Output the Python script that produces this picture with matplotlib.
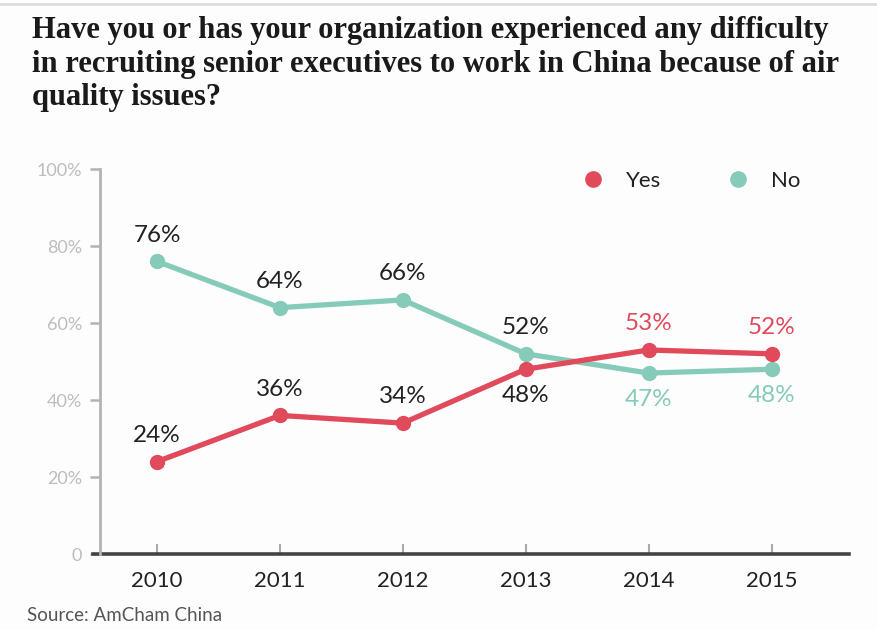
import matplotlib.pyplot as plt
from matplotlib.lines import Line2D

years = [2010, 2011, 2012, 2013, 2014, 2015]
yes_pct = [24, 36, 34, 48, 53, 52]
no_pct = [76, 64, 66, 52, 47, 48]

# label placement: +1 above the point, -1 below
yes_side = [1, 1, 1, -1, 1, 1]
no_side = [1, 1, 1, 1, -1, -1]

red = "#e04a5b"
teal = "#86cbba"
dark = "#222222"

plt.rcParams["font.family"] = ["Lato", "DejaVu Sans"]

fig = plt.figure(figsize=(8.78, 6.30), dpi=100)
fig.patch.set_facecolor("#fdfdfd")
ax = fig.add_axes([0.1139, 0.1206, 0.853, 0.6111])
ax.set_facecolor("#fdfdfd")

ax.plot(years, no_pct, color=teal, lw=3.8, marker="o", ms=10, zorder=3)
ax.plot(years, yes_pct, color=red, lw=3.8, marker="o", ms=10, zorder=4)

for i, (yr, y, n) in enumerate(zip(years, yes_pct, no_pct)):
    late = yr >= 2014
    ax.annotate(f"{y}%", (yr, y), xytext=(0, 19 * yes_side[i]),
                textcoords="offset points", ha="center", va="center",
                fontsize=17.5, color=red if late else dark)
    ax.annotate(f"{n}%", (yr, n), xytext=(0, 19 * no_side[i]),
                textcoords="offset points", ha="center", va="center",
                fontsize=17.5, color=teal if late else dark)

ax.set_xlim(2009.536, 2015.63)
ax.set_ylim(0, 100)

ax.set_yticks([0, 20, 40, 60, 80, 100])
ax.set_yticklabels(["0", "20%", "40%", "60%", "80%", "100%"])
ax.set_xticks(years)
ax.set_xticklabels([str(y) for y in years])

for s in ["top", "right"]:
    ax.spines[s].set_visible(False)
ax.spines["left"].set_color("#b3b3b3")
ax.spines["left"].set_linewidth(2)
ax.spines["bottom"].set_visible(False)
ax.axhline(0, xmin=-0.01, xmax=1, color="#444444", lw=2.6, clip_on=False, zorder=2)

ax.tick_params(axis="y", direction="out", length=7, width=1.8, color="#b3b3b3",
               labelcolor="#bdbdbd", labelsize=13, pad=6)
ax.tick_params(axis="x", direction="in", length=7, width=1.5, color="#aaaaaa",
               labelcolor=dark, labelsize=16, pad=12)

handles = [Line2D([], [], ls="none", marker="o", ms=11, color=red),
           Line2D([], [], ls="none", marker="o", ms=11, color=teal)]
ax.legend(handles, ["Yes", "No"], ncol=2, frameon=False, fontsize=16,
          loc="center", bbox_to_anchor=(0.782, 0.97), handletextpad=0.5,
          columnspacing=2.45, labelcolor=dark)

fig.text(0.037, 0.975, "Have you or has your organization experienced any difficulty\n"
         "in recruiting senior executives to work in China because of air\n"
         "quality issues?", family="Liberation Serif", fontweight="bold",
         fontsize=22, color="#1a1a1a", va="top", ha="left", linespacing=1.22)
fig.text(0.031, 0.015, "Source: AmCham China", fontsize=13.5, color="#555555")

fig.add_artist(Line2D([0, 1], [0.993, 0.993], color="#dddddd", lw=2))

fig.savefig("out.png", dpi=100, facecolor=fig.get_facecolor())
